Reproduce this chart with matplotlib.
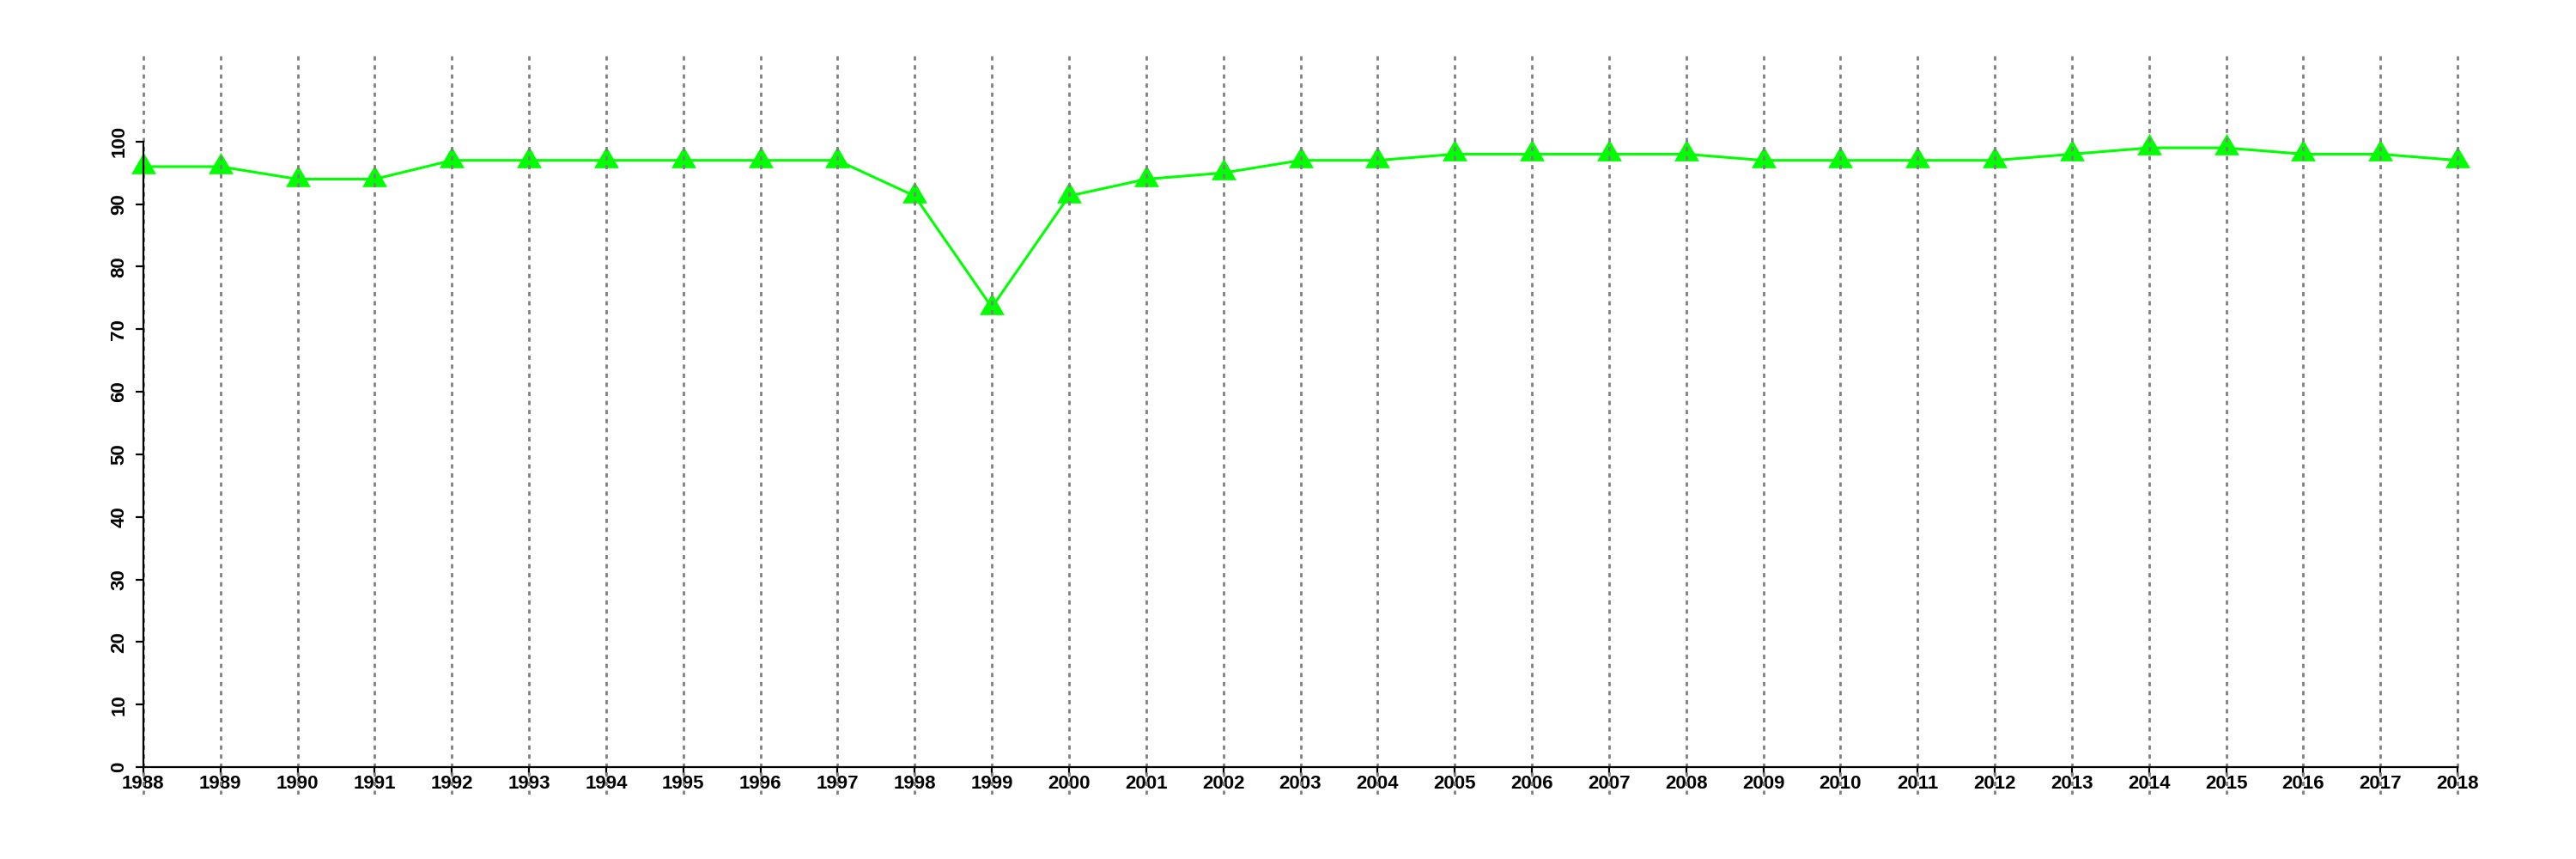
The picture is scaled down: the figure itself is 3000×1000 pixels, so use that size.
import matplotlib
matplotlib.use("Agg")
import matplotlib.pyplot as plt
import numpy as np

years = list(range(1988, 2019))
values = [96, 96, 94, 94, 97, 97, 97, 97, 97, 97,
          91.3, 73.5, 91.3, 94, 95, 97, 97, 98, 98, 98,
          98, 97, 97, 97, 97, 98, 99, 99, 98, 98, 97]
yticks = [0, 10, 20, 30, 40, 50, 60, 70, 80, 90, 100]

plt.rcParams['font.family'] = ['Liberation Sans', 'DejaVu Sans']

# triangle like R's pch 17 (centred on its centroid)
tri = [(0, 1), (-0.866, -0.5), (0.866, -0.5), (0, 1)]

fig = plt.figure(figsize=(30, 10), dpi=100)
ax = fig.add_axes([59 / 3000, 75 / 1000, (2970 - 59) / 3000, (925 - 60) / 1000])

# spines first: set_position resets the tick labels
for s in ["top", "right"]:
    ax.spines[s].set_visible(False)
ax.spines["left"].set_position(("data", 1988))
ax.spines["bottom"].set_position(("data", 0))
ax.spines["left"].set_bounds(0, 100)
ax.spines["bottom"].set_bounds(1988, 2018)
for s in ["left", "bottom"]:
    ax.spines[s].set_linewidth(1.6)
    ax.spines[s].set_zorder(4)

ax.plot(years, values, color="#00ff00", linewidth=2.2, marker=tri,
        markersize=24, markeredgewidth=0, markerfacecolor="#00ff00", zorder=2)

for y in years:
    ax.axvline(y, color="#808080", linewidth=2.0, linestyle=(0, (1.8, 2.0)), zorder=3)

ax.set_xlim(1986.8, 2019.2)
ax.set_ylim(-4.4, 114.4)

ax.set_xticks(years)
ax.set_xticklabels([str(y) for y in years], fontsize=16, fontweight="bold")
ax.set_yticks(yticks)
ax.set_yticklabels([str(v) for v in yticks], fontsize=16, fontweight="bold",
                   rotation=90, va="center")

ax.tick_params(axis="x", length=6.5, width=1.6, pad=0)
ax.tick_params(axis="y", length=6.5, width=1.6, pad=6)

fig.savefig("out.png", dpi=100)
